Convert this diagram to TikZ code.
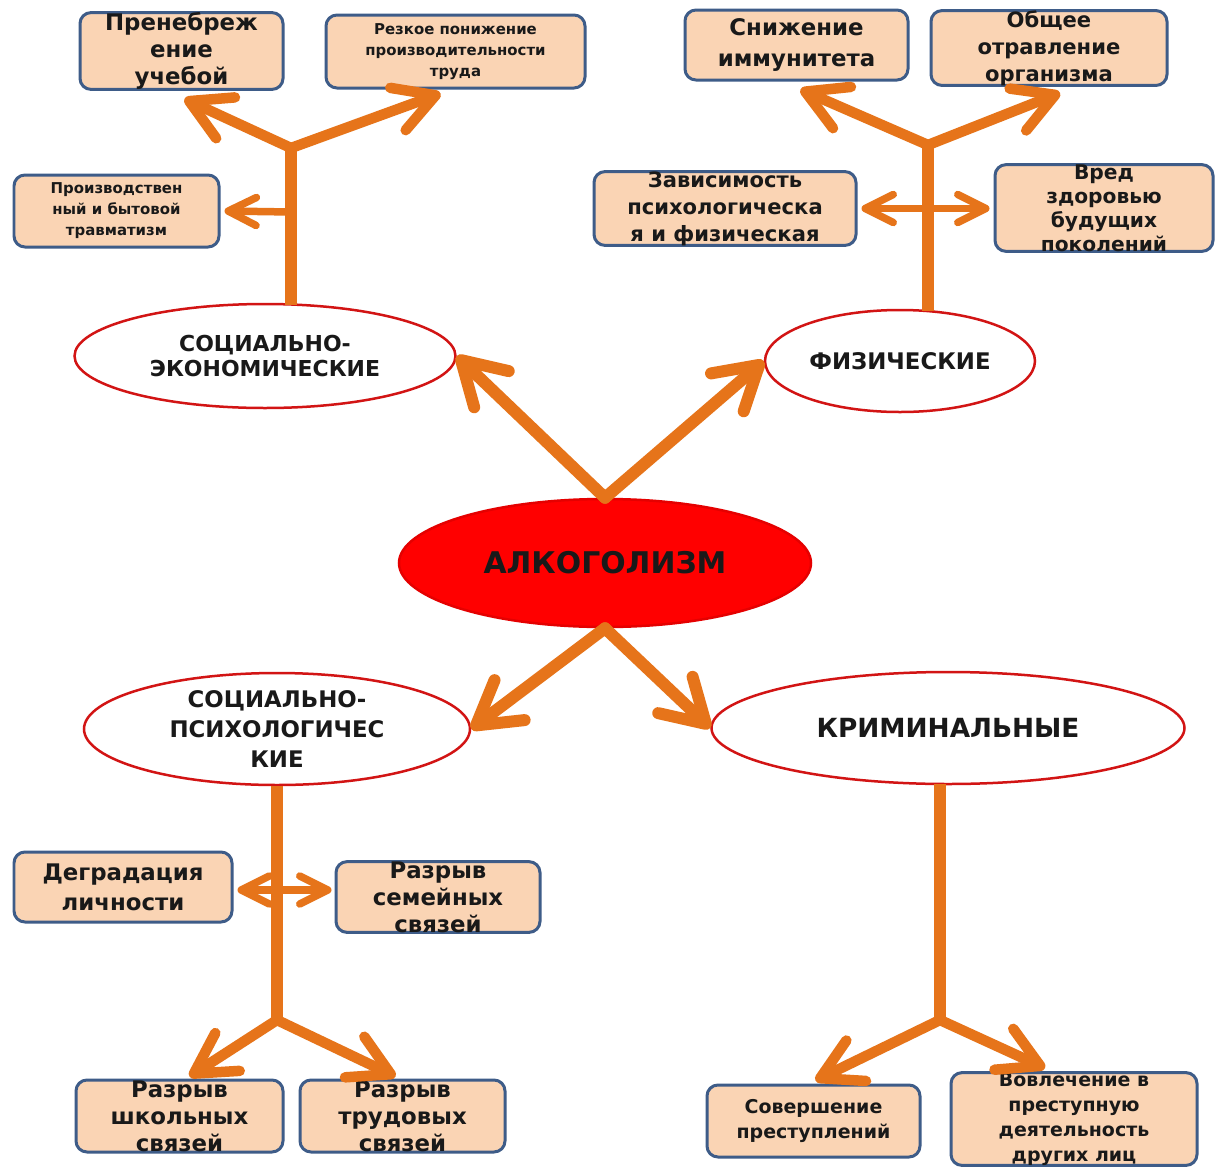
\documentclass[tikz,border=0pt]{standalone}
\usepackage{fontspec}
\setmainfont{DejaVu Sans}
\usetikzlibrary{arrows.meta,shapes.geometric,calc}
\definecolor{arrorange}{RGB}{230,116,26}
\definecolor{boxfill}{RGB}{250,212,180}
\definecolor{boxblue}{RGB}{62,92,136}
\definecolor{ovalred}{RGB}{210,20,20}
\definecolor{txt}{RGB}{25,25,25}
\begin{document}
\begin{tikzpicture}[x=0.02cm,y=-0.02cm,
  sz/.style 2 args={minimum width=#1*0.02cm, minimum height=#2*0.02cm},
  box/.style={draw=boxblue, line width=0.06cm, fill=boxfill, rounded corners=0.22cm,
    align=center, inner sep=0pt, text=txt},
  oval/.style={ellipse, draw=ovalred, line width=0.05cm, fill=white, align=center,
    inner sep=0pt, text=txt},
  arr/.style={draw=arrorange, line width=0.21cm, line cap=round,
    -{Straight Barb[length=0.8cm, width=0.9cm, round]}},
  bigarr/.style={draw=arrorange, line width=0.24cm, line cap=round,
    -{Straight Barb[length=0.84cm, width=1.0cm, round]}},
  harr/.style={draw=arrorange, line width=0.15cm, line cap=round,
    -{Straight Barb[length=0.56cm, width=0.56cm, round]}},
  darr/.style={draw=arrorange, line width=0.15cm, line cap=round,
    {Straight Barb[length=0.56cm, width=0.56cm, round]}-{Straight Barb[length=0.56cm, width=0.56cm, round]}},
  trunk/.style={draw=arrorange, line width=0.24cm, line cap=butt},
]
\useasboundingbox[fill=white] (0,0) rectangle (1215,1167);

% ellipses
\node[oval, fill=red, draw=red!90!black, sz={412}{128},
  font=\bfseries\fontsize{17}{20}\selectfont] (alc) at (605,563) {АЛКОГОЛИЗМ};
\node[oval, sz={381}{104},
  font=\bfseries\fontsize{12.5}{14.7}\selectfont] (se) at (265,356) {СОЦИАЛЬНО-\\ЭКОНОМИЧЕСКИЕ};
\node[oval, sz={270}{102},
  font=\bfseries\fontsize{13}{15}\selectfont] (fiz) at (900,361) {ФИЗИЧЕСКИЕ};
\node[oval, sz={386}{112},
  font=\bfseries\fontsize{13}{17}\selectfont] (sp) at (277,729) {СОЦИАЛЬНО-\\ПСИХОЛОГИЧЕС\\КИЕ};
\node[oval, sz={473}{112},
  font=\bfseries\fontsize{15}{17}\selectfont] (krim) at (948,728) {КРИМИНАЛЬНЫЕ};

% boxes
\node[box, font=\bfseries\fontsize{13}{15.3}\selectfont, sz={203}{72}] (pren) at (181.5,51) {Пренебреж\\ение\\учебой};
\node[box, font=\bfseries\fontsize{8.5}{12}\selectfont, sz={259}{73}] (rez) at (455.5,51.5) {Резкое понижение\\производительности\\труда};
\node[box, font=\bfseries\fontsize{8.5}{12}\selectfont, sz={205}{72}] (proizv) at (116.5,211) {Производствен\\ный и бытовой\\травматизм};
\node[box, font=\bfseries\fontsize{13}{17.6}\selectfont, sz={223}{70}] (snizh) at (796.5,45) {Снижение\\иммунитета};
\node[box, font=\bfseries\fontsize{12}{15.3}\selectfont, sz={236}{72}] (obsh) at (1049,48) {Общее\\отравление\\организма};
\node[box, font=\bfseries\fontsize{12}{15.3}\selectfont, sz={262}{71}] (zav) at (725,208.5) {Зависимость\\психологическа\\я и физическая};
\node[box, font=\bfseries\fontsize{11.5}{13.6}\selectfont, sz={218}{70}] (vred) at (1104,208) {Вред\\здоровью\\будущих\\поколений};
\node[box, font=\bfseries\fontsize{13}{17}\selectfont, sz={218}{70}] (degr) at (123,887) {Деградация\\личности};
\node[box, font=\bfseries\fontsize{13}{15.3}\selectfont, sz={204}{70}] (sem) at (438,897) {Разрыв\\семейных\\связей};
\node[box, font=\bfseries\fontsize{13}{15.3}\selectfont, sz={207}{72}] (shk) at (179.5,1116) {Разрыв\\школьных\\связей};
\node[box, font=\bfseries\fontsize{13}{15.3}\selectfont, sz={205}{72}] (trud) at (402.5,1116) {Разрыв\\трудовых\\связей};
\node[box, font=\bfseries\fontsize{10.8}{14.7}\selectfont, sz={213}{72}] (sov) at (813.5,1121) {Совершение\\преступлений};
\node[box, font=\bfseries\fontsize{10.8}{14.2}\selectfont, sz={246}{88}] (vov) at (1074,1119) {Вовлечение в\\преступную\\деятельность\\других лиц};

% central arrows
\draw[bigarr] (alc.north) -- (se.east);
\draw[bigarr] (alc.north) -- (fiz.west);
\draw[bigarr] (alc.south) -- (sp.east);
\draw[bigarr] (alc.south) -- (krim.west);

% top-left tree
\coordinate (t1) at (291,305);
\coordinate (b1) at (291,148);
\coordinate (h1) at (291,212);
\draw[trunk] (t1) -- (b1);
\draw[arr] (b1) -- ($(pren.south)+(3,8)$);
\draw[arr] (b1) -- ($(rez.south)+(-15,4)$);
\draw[harr] (h1) -- ($(proizv.east)+(4,0)$);

% top-right tree
\coordinate (t2) at (928,311);
\coordinate (b2) at (928,145);
\draw[trunk] (t2) -- (b2);
\draw[arr] (b2) -- ($(snizh.south)+(4,8)$);
\draw[arr] (b2) -- ($(obsh.south)+(11,6)$);
\draw[darr] ($(zav.east)+(4,0)$) -- ($(zav.east -| vred.west)+(-4,0)$);

% bottom-left tree
\coordinate (b3) at (277,1020);
\draw[trunk] (sp.south) -- (b3);
\draw[arr] (b3) -- ($(shk.north)+(10,-2)$);
\draw[arr] (b3) -- ($(trud.north)+(-7,-2)$);
\coordinate (d3) at ($(degr.east)+(4,3)$);
\draw[darr] (d3) -- ($(d3 -| sem.west)+(-3,0)$);

% bottom-right tree
\coordinate (t4) at (940,784);
\coordinate (b4) at (940,1020);
\draw[trunk] (t4) -- (b4);
\draw[arr] (b4) -- ($(sov.north)+(2,-3)$);
\draw[arr] (b4) -- ($(vov.north)+(-29,-3)$);
\end{tikzpicture}
\end{document}
